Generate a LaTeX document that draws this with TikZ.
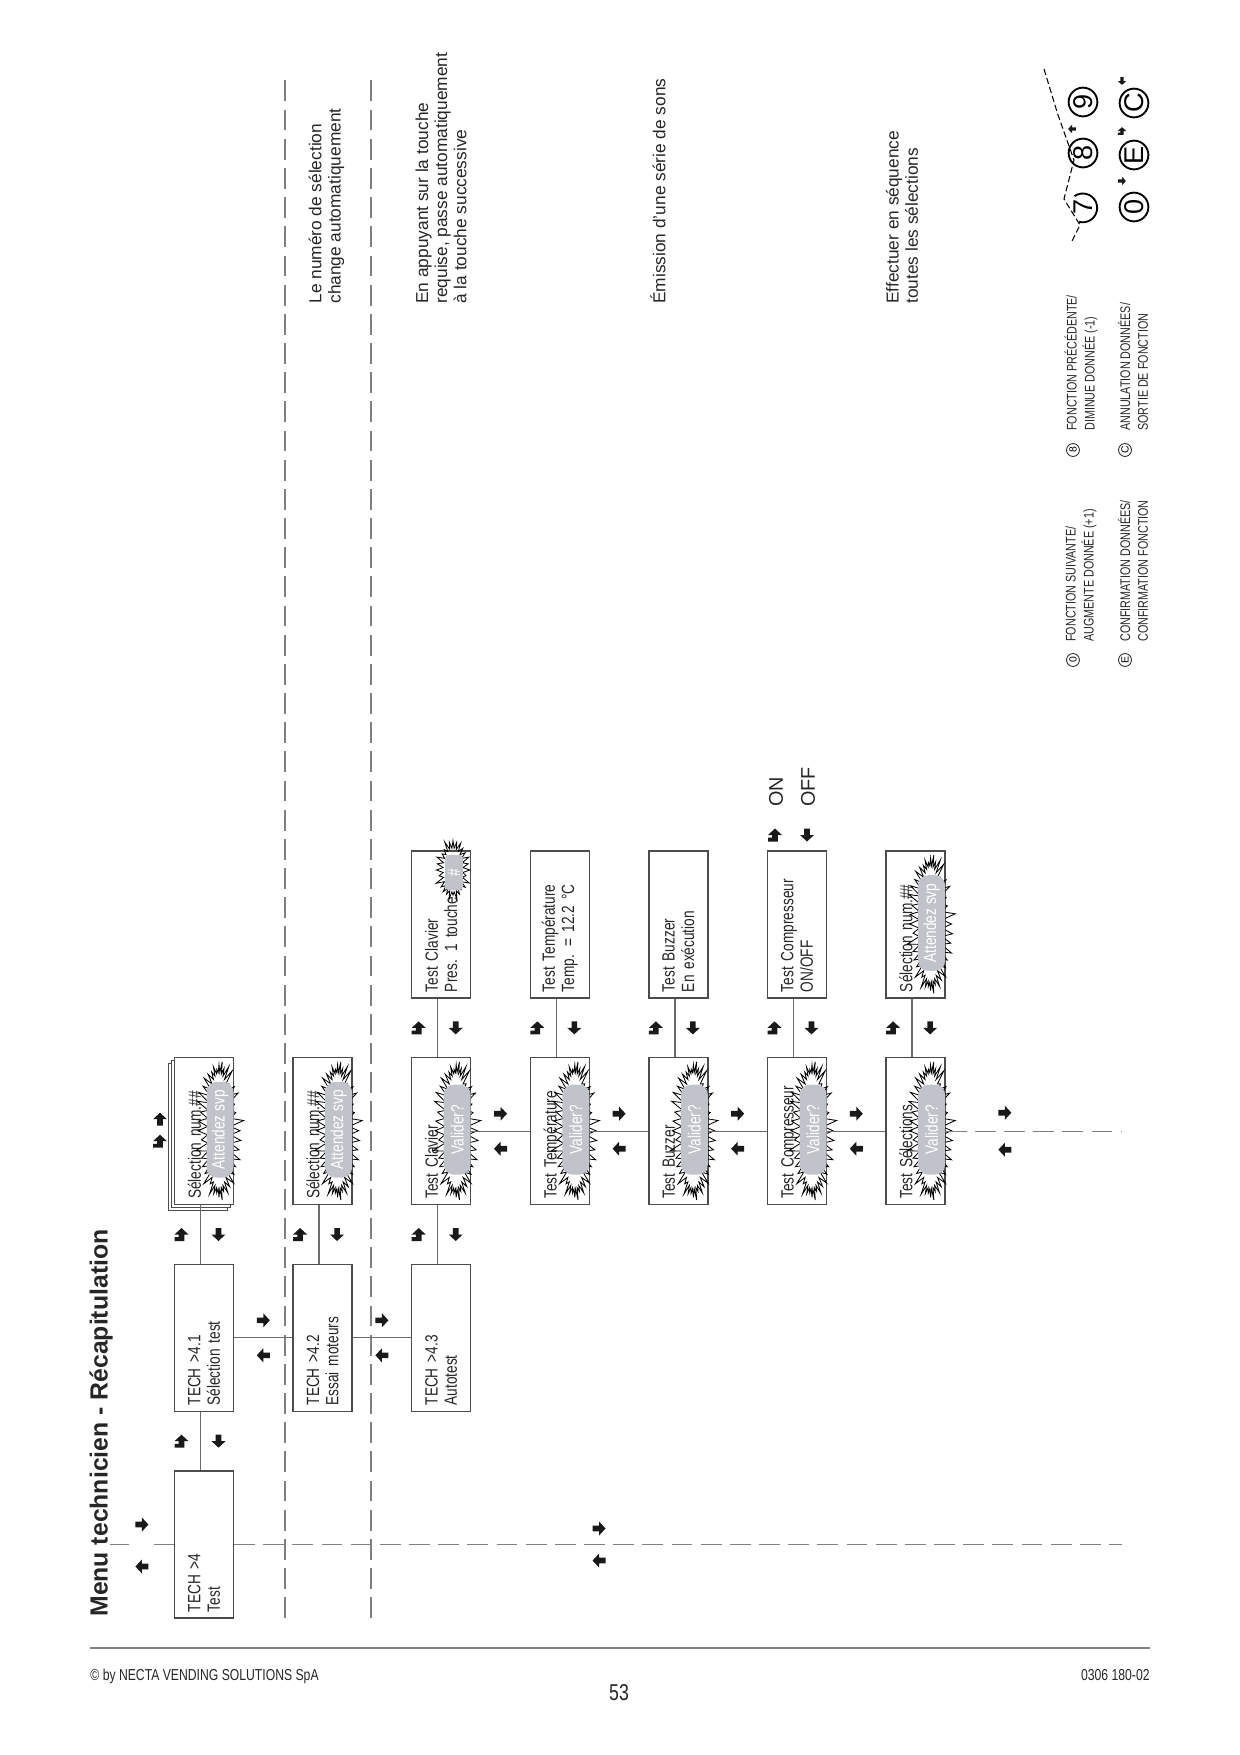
\documentclass[tikz,border=0pt]{standalone}
\usepackage{fontspec}
\setmainfont{Liberation Sans}
\newfontfamily\narrowfont{Liberation Sans}[FakeStretch=0.77]
\usetikzlibrary{shapes.symbols, calc, positioning}

\definecolor{framegray}{gray}{0.3}
\definecolor{linkgray}{gray}{0.42}
\definecolor{dashgray}{gray}{0.5}
\definecolor{pillgray}{RGB}{192,196,202}
\definecolor{keyblack}{gray}{0.1}
\definecolor{textgray}{gray}{0.15}

\tikzset{
  keyarrow/.pic={\fill[keyblack] (-6.5,-2.8) -- (0,-2.8) -- (0,-7) -- (6.5,0) -- (0,7) -- (0,2.8) -- (-6.5,2.8) -- cycle;},
  keyenter/.pic={\fill[keyblack] (-6.5,7) -- (-2.7,7) -- (-2.7,2.8) -- (0,2.8) -- (0,7) -- (6.5,0) -- (0,-7) -- (0,-2.8) -- (-6.5,-2.8) -- cycle;}
}

\begin{document}
\begin{tikzpicture}[
    x=0.48pt, y=0.48pt,
    box/.style={rectangle, draw=framegray, line width=0.6pt, fill=white, minimum width=70.56pt, minimum height=28.32pt, text width=64.8pt, inner xsep=2.9pt, inner ysep=0pt, align=left, text=textgray, font=\narrowfont\fontsize{8.5}{9.3}\selectfont},
    pill/.style={rectangle, rounded corners=5pt, fill=pillgray, text=white, minimum height=12.96pt, inner sep=0pt, font=\narrowfont\fontsize{8.5}{9.3}\selectfont},
    burst/.style={starburst, draw=black, line width=0.4pt, starburst points=44, starburst point height=6.5pt, minimum width=69pt, minimum height=24pt, inner sep=0pt},
    link/.style={draw=linkgray, line width=0.6pt},
    dashline/.style={draw=dashgray, line width=0.6pt, dash pattern=on 10pt off 4pt},
    note/.style={align=left, anchor=west, inner sep=0pt, text=textgray, font=\fontsize{8.3}{9.2}\selectfont},
    legend/.style={align=left, anchor=west, inner sep=0pt, text=textgray, font=\narrowfont\fontsize{6.7}{8.6}\selectfont},
    keysmall/.style={circle, draw=textgray, line width=0.4pt, minimum size=6.2pt, inner sep=0pt, font=\fontsize{5}{5}\selectfont},
    keybig/.style={circle, draw=black, line width=0.9pt, minimum size=13.8pt, inner sep=0pt, font=\fontsize{13}{13}\selectfont}
]
\useasboundingbox (0,0) rectangle (1240,-1755);

% the page is set landscape: turn it a quarter
\begin{scope}[shift={(1240,-1755)}, rotate=90, transform shape]

    \node[anchor=west, inner sep=0pt, text=textgray, font=\bfseries\fontsize{11.9}{13}\selectfont] (title) at (138,1139) {Menu technicien - Récapitulation};

    % separators
    \coordinate (sepaw) at (137,955);
    \coordinate (sepae) at (1682,955);
    \coordinate (sepbw) at (137,869);
    \coordinate (sepbe) at (1682,869);
    \path[dashline] (sepaw) -- (sepae);
    \path[dashline] (sepbw) -- (sepbe);

    % menu boxes
    \node[box] (t4) at (210.5,1036) {TECH >4\\Test};
    \node[box] (t41) at (417.2,1036) {TECH >4.1\\Sélection test};
    \node[box] (t42) at (417.2,917.4) {TECH >4.2\\Essai moteurs};
    \node[box] (t43) at (417.2,798.8) {TECH >4.3\\Autotest};

    \node[box] (selback) at (617.8,1042) {};
    \node[box] (selmid) at (620.8,1039) {};
    \node[box] (sel1) at (623.8,1036) {Sélection num.\#\#\\\mbox{}};
    \node[box] (sel2) at (623.8,917.4) {Sélection num.\#\#\\\mbox{}};

    \node[box] (clav) at (623.8,798.8) {Test Clavier\\\mbox{}};
    \node[box] (temp) at (623.8,680.2) {Test Température\\\mbox{}};
    \node[box] (buzz) at (623.8,561.6) {Test Buzzer\\\mbox{}};
    \node[box] (comp) at (623.8,443) {Test Compresseur\\\mbox{}};
    \node[box] (tsel) at (623.8,324.4) {Test Sélections\\\mbox{}};

    \node[box] (clavkey) at (830.5,798.8) {Test Clavier\\Pres. 1 touche};
    \node[box] (tempval) at (830.5,680.2) {Test Température\\Temp. = 12.2 °C};
    \node[box] (buzzrun) at (830.5,561.6) {Test Buzzer\\En exécution};
    \node[box] (comprun) at (830.5,443) {Test Compresseur\\ON/OFF};
    \node[box] (tselrun) at (830.5,324.4) {Sélection num.\#\#\\\mbox{}};

    % flashing messages
    \node[burst] (sel1burst) at ($(sel1)+(0.5,-15)$) {};
    \node[pill, minimum width=46pt] (sel1pill) at ($(sel1)+(1.5,-16)$) {Attendez svp};
    \node[burst] (sel2burst) at ($(sel2)+(0.5,-15)$) {};
    \node[pill, minimum width=46pt] (sel2pill) at ($(sel2)+(1.5,-16)$) {Attendez svp};
    \node[burst] (clavburst) at ($(clav)+(0.5,-15)$) {};
    \node[pill, minimum width=43.2pt] (clavpill) at ($(clav)+(1.5,-16)$) {Valider?};
    \node[burst] (tempburst) at ($(temp)+(0.5,-15)$) {};
    \node[pill, minimum width=43.2pt] (temppill) at ($(temp)+(1.5,-16)$) {Valider?};
    \node[burst] (buzzburst) at ($(buzz)+(0.5,-15)$) {};
    \node[pill, minimum width=43.2pt] (buzzpill) at ($(buzz)+(1.5,-16)$) {Valider?};
    \node[burst] (compburst) at ($(comp)+(0.5,-15)$) {};
    \node[pill, minimum width=43.2pt] (comppill) at ($(comp)+(1.5,-16)$) {Valider?};
    \node[burst] (tselburst) at ($(tsel)+(0.5,-15)$) {};
    \node[pill, minimum width=43.2pt] (tselpill) at ($(tsel)+(1.5,-16)$) {Valider?};
    \node[burst] (tselrunburst) at ($(tselrun)+(0.5,-15)$) {};
    \node[pill, minimum width=46pt] (tselrunpill) at ($(tselrun)+(1.5,-16)$) {Attendez svp};
    \node[burst, starburst points=28, starburst point height=4.5pt, minimum width=30pt, minimum height=18.5pt] (keyburst) at ($(clavkey)+(54.5,-11.8)$) {};
    \node[pill, rounded corners=1.5pt, minimum width=16.8pt, minimum height=8.6pt] (keypill) at ($(clavkey)+(52,-12.8)$) {\#};

    % connectors
    \path[link] ($(t4.east)+(0,3.5)$) -- ($(t41.west)+(0,3.5)$);
    \path[link] ($(t41.east)+(0,3.5)$) -- ($(sel1.west)+(0,3.5)$);
    \path[link] ($(t42.east)+(0,3.5)$) -- ($(sel2.west)+(0,3.5)$);
    \path[link] ($(t43.east)+(0,3.5)$) -- ($(clav.west)+(0,3.5)$);
    \path[link] (t41.south) -- (t42.north);
    \path[link] (t42.south) -- (t43.north);
    \path[link] (clav.south) -- (temp.north);
    \path[link] (temp.south) -- (buzz.north);
    \path[link] (buzz.south) -- (comp.north);
    \path[link] (comp.south) -- (tsel.north);
    \path[link] ($(clav.east)+(0,3.5)$) -- ($(clavkey.west)+(0,3.5)$);
    \path[link] ($(temp.east)+(0,3.5)$) -- ($(tempval.west)+(0,3.5)$);
    \path[link] ($(buzz.east)+(0,3.5)$) -- ($(buzzrun.west)+(0,3.5)$);
    \path[link] ($(comp.east)+(0,3.5)$) -- ($(comprun.west)+(0,3.5)$);
    \path[link] ($(tsel.east)+(0,3.5)$) -- ($(tselrun.west)+(0,3.5)$);

    \coordinate (upend) at (210.5,1130);
    \coordinate (downend) at (210.5,118);
    \coordinate (selend) at (623.8,118);
    \path[dashline, dash pattern=on 9.6pt off 12pt] (t4.north) -- (upend);
    \path[dashline] (t4.south) -- (downend);
    \path[dashline] (tsel.south) -- (selend);

    % keys: enter / exit
    \pic at ($(t4.east)!.5!(t41.west)+(0,22.5)$) {keyenter};
    \pic[rotate=180] at ($(t4.east)!.5!(t41.west)+(0,-14.5)$) {keyarrow};
    \pic at ($(t41.east)!.5!(sel1.west)+(0,22.5)$) {keyenter};
    \pic[rotate=180] at ($(t41.east)!.5!(sel1.west)+(0,-14.5)$) {keyarrow};
    \pic at ($(t42.east)!.5!(sel2.west)+(0,22.5)$) {keyenter};
    \pic[rotate=180] at ($(t42.east)!.5!(sel2.west)+(0,-14.5)$) {keyarrow};
    \pic at ($(t43.east)!.5!(clav.west)+(0,22.5)$) {keyenter};
    \pic[rotate=180] at ($(t43.east)!.5!(clav.west)+(0,-14.5)$) {keyarrow};
    \pic at ($(clav.east)!.5!(clavkey.west)+(0,22.5)$) {keyenter};
    \pic[rotate=180] at ($(clav.east)!.5!(clavkey.west)+(0,-14.5)$) {keyarrow};
    \pic at ($(temp.east)!.5!(tempval.west)+(0,22.5)$) {keyenter};
    \pic[rotate=180] at ($(temp.east)!.5!(tempval.west)+(0,-14.5)$) {keyarrow};
    \pic at ($(buzz.east)!.5!(buzzrun.west)+(0,22.5)$) {keyenter};
    \pic[rotate=180] at ($(buzz.east)!.5!(buzzrun.west)+(0,-14.5)$) {keyarrow};
    \pic at ($(comp.east)!.5!(comprun.west)+(0,22.5)$) {keyenter};
    \pic[rotate=180] at ($(comp.east)!.5!(comprun.west)+(0,-14.5)$) {keyarrow};
    \pic at ($(tsel.east)!.5!(tselrun.west)+(0,22.5)$) {keyenter};
    \pic[rotate=180] at ($(tsel.east)!.5!(tselrun.west)+(0,-14.5)$) {keyarrow};
    \pic at ($(sel1)+(-10,44)$) {keyenter};
    \pic at ($(sel1)+(12,44)$) {keyarrow};

    % keys: next / previous
    \pic[rotate=-90] at ($(t41.south)!.5!(t42.north)+(17.5,0)$) {keyarrow};
    \pic[rotate=90] at ($(t41.south)!.5!(t42.north)+(-17.5,0)$) {keyarrow};
    \pic[rotate=-90] at ($(t42.south)!.5!(t43.north)+(17.5,0)$) {keyarrow};
    \pic[rotate=90] at ($(t42.south)!.5!(t43.north)+(-17.5,0)$) {keyarrow};
    \pic[rotate=-90] at ($(clav.south)!.5!(temp.north)+(17.5,0)$) {keyarrow};
    \pic[rotate=90] at ($(clav.south)!.5!(temp.north)+(-17.5,0)$) {keyarrow};
    \pic[rotate=-90] at ($(temp.south)!.5!(buzz.north)+(17.5,0)$) {keyarrow};
    \pic[rotate=90] at ($(temp.south)!.5!(buzz.north)+(-17.5,0)$) {keyarrow};
    \pic[rotate=-90] at ($(buzz.south)!.5!(comp.north)+(17.5,0)$) {keyarrow};
    \pic[rotate=90] at ($(buzz.south)!.5!(comp.north)+(-17.5,0)$) {keyarrow};
    \pic[rotate=-90] at ($(comp.south)!.5!(tsel.north)+(17.5,0)$) {keyarrow};
    \pic[rotate=90] at ($(comp.south)!.5!(tsel.north)+(-17.5,0)$) {keyarrow};
    \pic[rotate=-90] at ($(tsel.south)!.5!(selend)+(18.5,29)$) {keyarrow};
    \pic[rotate=90] at ($(tsel.south)!.5!(selend)+(-18.5,29)$) {keyarrow};
    \pic[rotate=-90] at ($(t4.south)!.5!(downend)+(16,79)$) {keyarrow};
    \pic[rotate=90] at ($(t4.south)!.5!(downend)+(-16,79)$) {keyarrow};
    \pic[rotate=-90] at ($(t4.north)!.5!(upend)+(20,0)$) {keyarrow};
    \pic[rotate=90] at ($(t4.north)!.5!(upend)+(-22,0)$) {keyarrow};

    % compressor on / off
    \pic at ($(comprun)+(89.5,22)$) {keyenter};
    \pic[rotate=180] at ($(comprun)+(89.5,-10)$) {keyarrow};
    \node[anchor=west, inner sep=0pt, text=textgray, font=\fontsize{9.5}{9.5}\selectfont] (compon) at (948,464) {ON};
    \node[anchor=west, inner sep=0pt, text=textgray, font=\fontsize{9.5}{9.5}\selectfont] (compoff) at (948,432) {OFF};

    % notes
    \node[note] (noteselect) at (1451,913.5) {Le numéro de sélection\\change automatiquement};
    \node[note] (noteclav) at (1451,799) {En appuyant sur la touche\\requise, passe automatiquement\\à la touche successive};
    \node[note] (notebuzz) at (1451,582) {Émission d'une série de sons};
    \node[note] (notesel) at (1451,338) {Effectuer en séquence\\toutes les sélections};

    % legend
    \node[keysmall] (k0) at (1095,167) {0};
    \node[legend] (k0text) at (1113,159) {FONCTION SUIVANTE/\\AUGMENTE DONNÉE (+1)};
    \node[keysmall] (k8) at (1305,167) {8};
    \node[legend] (k8text) at (1324,159) {FONCTION PRÉCÉDENTE/\\DIMINUE DONNÉE (-1)};
    \node[keysmall] (ke) at (1095,115) {E};
    \node[legend] (ketext) at (1113,107) {CONFIRMATION DONNÉES/\\CONFIRMATION FONCTION};
    \node[keysmall] (kc) at (1305,115) {C};
    \node[legend] (kctext) at (1324,107) {ANNULATION DONNÉES/\\SORTIE DE FONCTION};

    % keypad, torn at the left
    \node[keybig, draw=none] (pad7) at (1548,157) {7};
    \draw[black, line width=0.9pt] (pad7.165) arc[start angle=165, end angle=395, radius=14.4];
    \node[keybig] (pad8) at (1602,157) {8};
    \node[keybig] (pad9) at (1653,157) {9};
    \node[keybig] (pad0) at (1548,106) {0};
    \node[keybig] (pade) at (1600,106) {E};
    \node[keybig] (padc) at (1652,106) {C};
    \pic[rotate=90, scale=0.6] at ($(pad8)+(24,11)$) {keyarrow};
    \pic[rotate=-90, scale=0.6] at ($(pad0)+(26,12)$) {keyarrow};
    \pic[scale=0.6] at ($(pade)+(24,12)$) {keyenter};
    \pic[rotate=180, scale=0.6] at ($(padc)+(22,12)$) {keyarrow};
    \coordinate (tear1) at (1686,196);
    \coordinate (tear2) at (1640,182);
    \coordinate (tear3) at (1595,166);
    \coordinate (tear4) at (1556,176);
    \coordinate (tear5) at (1530,160);
    \coordinate (tear6) at (1514,168);
    \draw[black, line width=0.5pt, dash pattern=on 3pt off 1.5pt] (tear1) -- (tear2) -- (tear3) -- (tear4) -- (tear5) -- (tear6);
\end{scope}

% footer
\coordinate (footl) at (90,-1648);
\coordinate (footr) at (1150,-1648);
\draw[gray, line width=1pt] (footl) -- (footr);
\node[anchor=base west, inner sep=0pt, text=textgray, font=\narrowfont\fontsize{7.6}{8}\selectfont] (copyright) at (90,-1680) {© by NECTA VENDING SOLUTIONS SpA};
\node[anchor=base east, inner sep=0pt, text=textgray, font=\narrowfont\fontsize{7.6}{8}\selectfont] (docref) at (1150,-1680) {0306 180-02};
\node[anchor=base, inner sep=0pt, text=textgray, font=\narrowfont\fontsize{11}{12}\selectfont] (pagenum) at (619,-1700) {53};
\end{tikzpicture}
\end{document}
